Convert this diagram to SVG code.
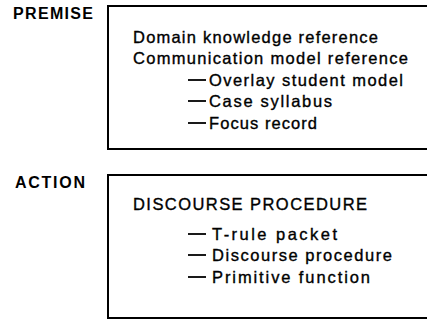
<svg xmlns="http://www.w3.org/2000/svg" width="427" height="320" viewBox="0 0 427 320">
<style>
.lbl{font-family:"Liberation Sans",Arial,sans-serif;font-size:16px;font-weight:bold;fill:#000}
.t{font-family:"Liberation Sans",Arial,sans-serif;font-size:16.5px;fill:#000;stroke:#000;stroke-width:0.35}
.box{fill:none;stroke:#000;stroke-width:2}
.dash{stroke:#000;stroke-width:1.8}
</style>
<rect width="427" height="320" fill="#fff"/>
<g id="premise">
<text class="lbl" x="13" y="19" textLength="80" lengthAdjust="spacing">PREMISE</text>
<rect class="box" x="108" y="6" width="340" height="143"/>
<text class="t" x="133" y="43" textLength="245" lengthAdjust="spacing">Domain knowledge reference</text>
<text class="t" x="133" y="64" textLength="275" lengthAdjust="spacing">Communication model reference</text>
<line class="dash" x1="188" y1="80" x2="206" y2="80"/>
<text class="t" x="209" y="86" textLength="194" lengthAdjust="spacing">Overlay student model</text>
<line class="dash" x1="188" y1="101" x2="206" y2="101"/>
<text class="t" x="209" y="107" textLength="123" lengthAdjust="spacing">Case syllabus</text>
<line class="dash" x1="188" y1="123" x2="206" y2="123"/>
<text class="t" x="209" y="129" textLength="108" lengthAdjust="spacing">Focus record</text>
</g>
<g id="action">
<text class="lbl" x="15" y="188" textLength="70" lengthAdjust="spacing">ACTION</text>
<rect class="box" x="108" y="175" width="340" height="143"/>
<text class="t" x="133" y="210" textLength="234" lengthAdjust="spacing">DISCOURSE PROCEDURE</text>
<line class="dash" x1="188" y1="234" x2="206" y2="234"/>
<text class="t" x="212" y="240" textLength="125" lengthAdjust="spacing">T-rule packet</text>
<line class="dash" x1="188" y1="255" x2="206" y2="255"/>
<text class="t" x="212" y="261" textLength="180" lengthAdjust="spacing">Discourse procedure</text>
<line class="dash" x1="188" y1="277" x2="206" y2="277"/>
<text class="t" x="212" y="283" textLength="158" lengthAdjust="spacing">Primitive function</text>
</g>
<g id="connectors"></g>
</svg>
